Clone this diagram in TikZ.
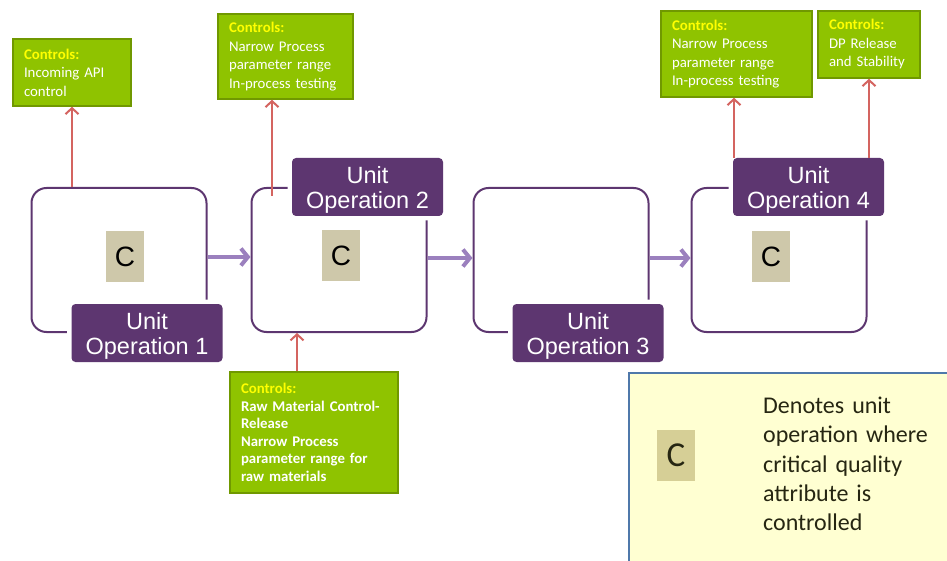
\documentclass[tikz,border=0pt]{standalone}
\usepackage{fontspec}
\setmainfont{Carlito}
\newfontfamily\arialfont{Liberation Sans}
\usetikzlibrary{arrows.meta}

\definecolor{uopurple}{RGB}{93,54,112}
\definecolor{flowpurple}{RGB}{155,128,190}
\definecolor{ctlgreen}{RGB}{143,195,0}
\definecolor{ctlborder}{RGB}{112,152,0}
\definecolor{ctlyellow}{RGB}{255,255,0}
\definecolor{ctlred}{RGB}{212,100,96}
\definecolor{cbeige}{RGB}{206,200,170}
\definecolor{legendc}{RGB}{214,207,150}
\definecolor{legendfill}{RGB}{255,255,210}
\definecolor{legendline}{RGB}{79,120,170}
\definecolor{legendtext}{RGB}{38,38,18}

\tikzset{
  uobox/.style={draw=uopurple, line width=2pt, rounded corners=15pt,
    minimum width=175pt, minimum height=144pt, inner sep=0pt},
  uolabel/.style={fill=uopurple, rounded corners=4pt, text=white,
    font=\arialfont\fontsize{23.5}{25}\selectfont, align=center,
    minimum width=151pt, minimum height=58pt, inner sep=0pt, text depth=0pt,
    preaction={draw=white, line width=9pt}},
  cmark/.style={fill=cbeige, font=\arialfont\fontsize{28}{30}\selectfont,
    minimum width=38pt, minimum height=51pt, inner sep=0pt},
  ctlbox/.style={fill=ctlgreen, draw=ctlborder, line width=1.5pt, text=white,
    align=left, inner xsep=11pt, inner ysep=0pt,
    font=\fontsize{14.8}{18.5}\selectfont},
  ctlarrow/.style={draw=ctlred, line width=2pt,
    -{Straight Barb[length=6pt,width=13pt]}},
  flowarrow/.style={draw=flowpurple, line width=4pt,
    -{Straight Barb[length=7pt,width=17pt]}},
}

\newcommand{\ctlhead}{\textbf{\color{ctlyellow}Controls:}}

\begin{document}
\begin{tikzpicture}[x=1pt, y=-1pt]
\useasboundingbox (0,0) rectangle (947,561);
\clip (0,0) rectangle (947,561);

% Unit operation boxes
\node[uobox] (uo1) at (119,260) {};
\node[uobox] (uo2) at (339,260) {};
\node[uobox] (uo3) at (561,260) {};
\node[uobox] (uo4) at (779,260) {};

% Unit operation labels
\node[uolabel] (lab1) at ([xshift=28pt]uo1.south) {Unit\\Operation 1};
\node[uolabel] (lab2) at ([xshift=28.5pt]uo2.north) {Unit\\Operation 2};
\node[uolabel] (lab3) at ([xshift=27pt]uo3.south) {Unit\\Operation 3};
\node[uolabel] (lab4) at ([xshift=29.5pt]uo4.north) {Unit\\Operation 4};

% CQA marks
\node[cmark] (c1) at (125,256.5) {C};
\node[cmark] (c2) at (341,255.5) {C};
\node[cmark] (c4) at (771,256.5) {C};

% Flow between unit operations
\draw[flowarrow] ([yshift=3pt]uo1.east) -- ([yshift=3pt]uo2.west);
\draw[flowarrow] ([yshift=2pt]uo2.east) -- ([yshift=2pt]uo3.west);
\draw[flowarrow] ([yshift=2pt]uo3.east) -- ([yshift=2pt]uo4.west);

% Control boxes
\node[ctlbox, minimum width=118pt, minimum height=67pt, text width=96pt]
  (ctl1) at (72,72.5) {\ctlhead\\Incoming API\\control};
\node[ctlbox, minimum width=135pt, minimum height=85pt, text width=113pt]
  (ctl2) at (285.5,56.5) {\ctlhead\\Narrow Process\\parameter range\\In-process testing};
\node[ctlbox, minimum width=168pt, minimum height=121pt, text width=146pt,
  font=\fontsize{14.8}{17.5}\selectfont\bfseries]
  (ctlraw) at (314,432.5) {\ctlhead\\Raw Material Control-\\Release\\Narrow Process\\parameter range for\\raw materials};
\node[ctlbox, minimum width=151pt, minimum height=86pt, text width=129pt]
  (ctl4a) at (736.5,54) {\ctlhead\\Narrow Process\\parameter range\\In-process testing};
\node[ctlbox, minimum width=102pt, minimum height=67pt, text width=80pt]
  (ctl4b) at (869,44.5) {\ctlhead\\DP Release\\and Stability};

% Control arrows
\coordinate (a2) at ([xshift=-13.5pt]ctl2.south);
\coordinate (araw) at ([xshift=-17pt]ctlraw.north);
\coordinate (a4) at ([xshift=-2.5pt]ctl4a.south);
\draw[ctlarrow] (uo1.north -| ctl1.south) -- (ctl1.south);
\draw[ctlarrow] ([yshift=-9pt]a2 |- uo2.north) -- (a2);
\draw[ctlarrow] (araw) -- (araw |- uo2.south);
\draw[ctlarrow] (a4 |- lab4.north) -- (a4);
\draw[ctlarrow] (lab4.north -| ctl4b.south) -- (ctl4b.south);

% Legend
\node[fill=legendfill, draw=legendline, line width=2pt, anchor=north west,
  minimum width=330pt, minimum height=200pt] (legend) at (628,372) {};
\node[fill=legendc, minimum width=38pt, minimum height=51pt, inner sep=0pt,
  font=\fontsize{35}{38}\selectfont, text=legendtext] (lc) at (676,455.5) {C};
\node[anchor=west, text width=175pt, align=left, inner sep=0pt, text=legendtext,
  font=\fontsize{24}{29.3}\selectfont] (ltext) at (763,464)
  {Denotes unit\\operation where\\critical quality\\attribute is\\controlled};

\end{tikzpicture}
\end{document}
